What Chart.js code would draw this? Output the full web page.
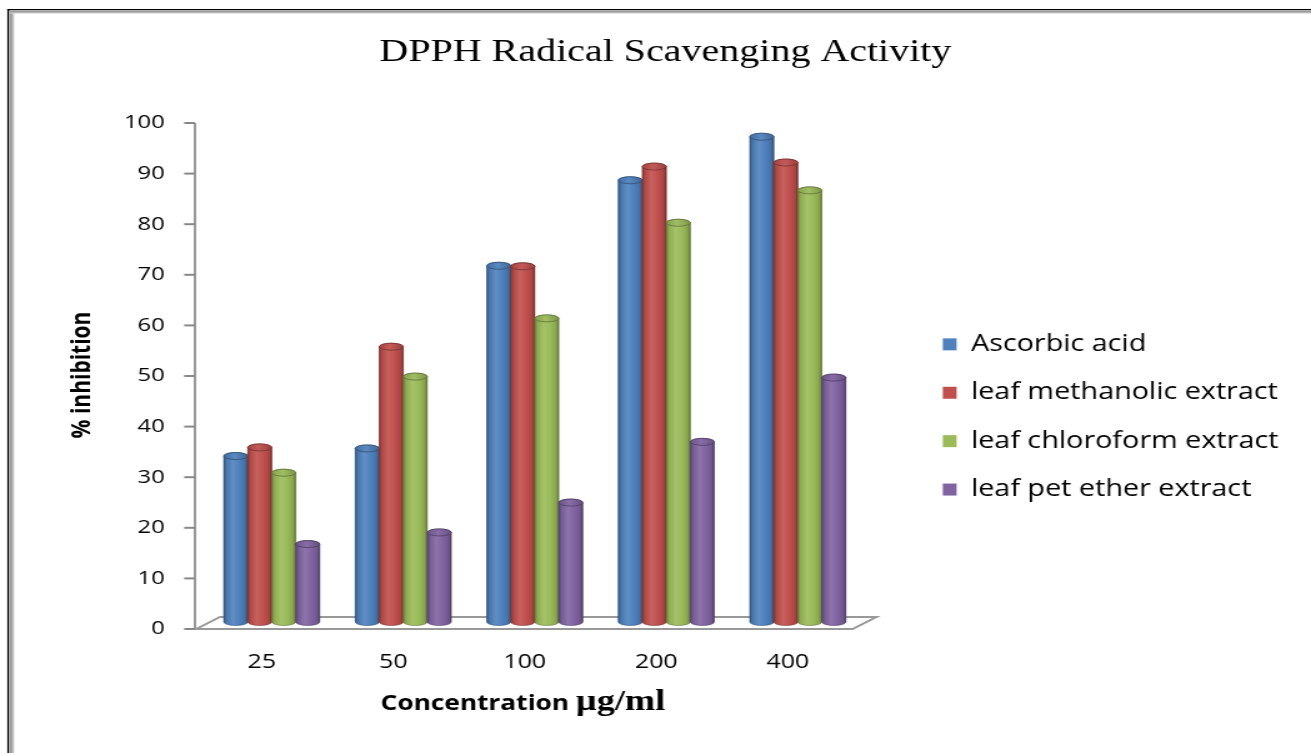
<!DOCTYPE html>
<html>
<head>
<meta charset="utf-8">
<title>DPPH Radical Scavenging Activity</title>
<script src="https://cdn.jsdelivr.net/npm/chart.js@4.4.1/dist/chart.umd.min.js"></script>
<style>
  html, body { margin: 0; padding: 0; background: #ffffff; overflow: hidden; }
  /* the drawing surface is rendered narrower and widened by CSS, which gives the wide lettering */
  #chart { display: block; width: 1311px; height: 753px; }
</style>
</head>
<body>
<canvas id="chart" width="1049" height="753" style="width:1311px;height:753px"></canvas>
<script>
// ---- data ----
const concentrations = ['25', '50', '100', '200', '400'];
const seriesNames = ['Ascorbic acid', 'leaf methanolic extract', 'leaf chloroform extract', 'leaf pet ether extract'];
const ascorbicAcid      = [32.8, 34.3, 70.4, 87.3, 95.9];
const methanolicExtract = [34.5, 54.4, 70.3, 90.0, 90.8];
const chloroformExtract = [29.5, 48.5, 60.0, 78.9, 85.3];
const petEtherExtract   = [15.4, 17.7, 23.6, 35.6, 48.3];
const yTickValues = [0, 10, 20, 30, 40, 50, 60, 70, 80, 90, 100];

const chartTitle = 'DPPH Radical Scavenging Activity';
const yTitle = '% inhibition';
const xTitleWord = 'Concentration ';
const xTitleUnit = '\u00B5g/ml';

const seriesColors = ['#4F81BD', '#C0504D', '#9BBB59', '#8064A2'];
const seriesValues = [ascorbicAcid, methanolicExtract, chloroformExtract, petEtherExtract];

const SANS = '"Open Sans", "DejaVu Sans", sans-serif';
const SERIF = '"Liberation Serif", "DejaVu Serif", serif';

// ---- layout helpers ----
const canvas = document.getElementById('chart');
const PLOT_RIGHT = 691;      // right edge of the plot area
const LEGEND_GAP = 38;       // space between plot and legend
const LEGEND_FONT = 23, LEGEND_BOX = 11, LEGEND_PAD = 25.4;

// width the legend needs for its longest entry
function legendWidth() {
  const c = canvas.getContext('2d');
  c.font = 'normal ' + LEGEND_FONT + 'px ' + SANS;
  const w = Math.max(...seriesNames.map(s => c.measureText(s).width));
  return LEGEND_PAD + LEGEND_BOX + LEGEND_FONT / 2 + w + 10;
}
const rightPad = Math.max(0, canvas.width - PLOT_RIGHT - LEGEND_GAP - legendWidth());

// mix a hex colour toward another hex colour
function mix(hexA, hexB, t) {
  const a = parseInt(hexA.slice(1), 16), b = parseInt(hexB.slice(1), 16);
  const ch = (v, s) => (v >> s) & 255;
  const c = s => Math.round(ch(a, s) * (1 - t) + ch(b, s) * t);
  return 'rgb(' + c(16) + ',' + c(8) + ',' + c(0) + ')';
}

// white page with the double frame line on the top and left edges
const framePlugin = {
  id: 'frame',
  beforeDraw(chart) {
    const { ctx, width, height } = chart;
    ctx.save();
    ctx.fillStyle = '#ffffff';
    ctx.fillRect(0, 0, width, height);
    ctx.fillStyle = '#000000';
    ctx.fillRect(5.9, 9, width, 1.3);
    ctx.fillRect(5.9, 9, 1.4, height);
    const gv = ctx.createLinearGradient(8, 0, 11.4, 0);
    gv.addColorStop(0, '#8a8a8a'); gv.addColorStop(1, '#d8d8d8');
    ctx.fillStyle = gv;
    ctx.fillRect(8, 11, 3.4, height);
    const gh = ctx.createLinearGradient(0, 11, 0, 13.6);
    gh.addColorStop(0, '#8a8a8a'); gh.addColorStop(1, '#d8d8d8');
    ctx.fillStyle = gh;
    ctx.fillRect(8, 11, width, 2.6);
    ctx.restore();
  }
};

// chart heading and the two axis titles
const titlesPlugin = {
  id: 'titles',
  afterDraw(chart) {
    const ctx = chart.ctx;
    ctx.save();
    ctx.fillStyle = '#000000';
    ctx.textBaseline = 'alphabetic';
    ctx.textAlign = 'center';
    ctx.font = '32px ' + SERIF;
    ctx.fillText(chartTitle, 532.4, 61);

    // x-axis title: sans word followed by a serif unit
    const wFont = 'bold 21px ' + SANS, uFont = 'bold 29px ' + SERIF;
    ctx.font = wFont; const w1 = ctx.measureText(xTitleWord).width;
    ctx.font = uFont; const w2 = ctx.measureText(xTitleUnit).width;
    const x0 = 418.4 - (w1 + w2) / 2;
    ctx.textAlign = 'left';
    ctx.font = wFont; ctx.fillText(xTitleWord, x0, 710);
    ctx.font = uFont; ctx.fillText(xTitleUnit, x0 + w1, 710);

    // y-axis title, rotated
    ctx.translate(66.4, 375);
    ctx.rotate(-Math.PI / 2);
    ctx.textAlign = 'center';
    ctx.textBaseline = 'middle';
    ctx.font = 'bold 21px ' + SANS;
    ctx.fillText(yTitle, 0, 0);
    ctx.restore();
  }
};

// front value axis and the floor slab under the columns
const floorPlugin = {
  id: 'floor',
  beforeDatasetsDraw(chart) {
    const { ctx, chartArea } = chart;
    const y = chart.scales.y;
    const drop = 7, axisGap = 8.8, tick = 8.6, dx = 19, dy = -12;
    const ax = chartArea.left - axisGap;
    const yFront = y.getPixelForValue(0) + drop;
    const yTop = y.getPixelForValue(y.max) + drop;
    ctx.save();
    ctx.strokeStyle = '#888888';
    ctx.lineWidth = 1.7;
    ctx.beginPath();
    ctx.moveTo(ax, yTop); ctx.lineTo(ax, yFront);
    ctx.stroke();
    ctx.lineWidth = 2;
    y.ticks.forEach(t => {
      const py = y.getPixelForValue(t.value) + drop;
      ctx.beginPath(); ctx.moveTo(ax - tick, py); ctx.lineTo(ax, py); ctx.stroke();
    });
    // floor outline
    const fr = chartArea.right - axisGap;
    ctx.strokeStyle = '#999999';
    ctx.lineWidth = 2;
    ctx.beginPath();
    ctx.moveTo(ax, yFront);
    ctx.lineTo(fr, yFront);
    ctx.lineTo(fr + dx, yFront + dy);
    ctx.lineTo(ax + 1 + dx, yFront + dy);
    ctx.lineTo(ax + 1, yFront);
    ctx.stroke();
    ctx.restore();
  }
};

// shade every column as a cylinder with an elliptical cap
const cylinderPlugin = {
  id: 'cylinders',
  afterDatasetsDraw(chart) {
    const ctx = chart.ctx;
    chart.data.datasets.forEach((ds, i) => {
      const meta = chart.getDatasetMeta(i);
      if (meta.hidden) return;
      const col = ds.backgroundColor;
      meta.data.forEach(bar => {
        const { x, y, base, width } = bar.getProps(['x', 'y', 'base', 'width'], true);
        const rx = width / 2, ry = 3.5, l = x - rx, r = x + rx;
        const body = ctx.createLinearGradient(l, 0, r, 0);
        body.addColorStop(0, mix(col, '#000000', 0.32));
        body.addColorStop(0.12, mix(col, '#000000', 0.08));
        body.addColorStop(0.38, mix(col, '#ffffff', 0.10));
        body.addColorStop(0.65, col);
        body.addColorStop(0.88, mix(col, '#000000', 0.12));
        body.addColorStop(1, mix(col, '#000000', 0.38));
        ctx.save();
        ctx.beginPath();
        ctx.moveTo(l, y);
        ctx.lineTo(l, base);
        ctx.ellipse(x, base, rx, ry, 0, Math.PI, 0, true);
        ctx.lineTo(r, y);
        ctx.ellipse(x, y, rx, ry, 0, 0, Math.PI, true);
        ctx.closePath();
        ctx.fillStyle = body;
        ctx.fill();
        ctx.lineWidth = 0.6;
        ctx.strokeStyle = mix(col, '#000000', 0.35);
        ctx.stroke();
        // cap
        const cap = ctx.createLinearGradient(l, 0, r, 0);
        cap.addColorStop(0, mix(col, '#000000', 0.15));
        cap.addColorStop(0.45, mix(col, '#ffffff', 0.06));
        cap.addColorStop(1, mix(col, '#000000', 0.2));
        ctx.beginPath();
        ctx.ellipse(x, y, rx, ry, 0, 0, Math.PI * 2);
        ctx.fillStyle = cap;
        ctx.fill();
        ctx.lineWidth = 0.8;
        ctx.strokeStyle = mix(col, '#000000', 0.38);
        ctx.stroke();
        ctx.restore();
      });
    });
  }
};

const datasets = seriesNames.map((name, i) => ({
  label: name,
  data: seriesValues[i],
  backgroundColor: seriesColors[i],
  borderWidth: 0,
  yAxisID: 'y',
  categoryPercentage: 0.73,
  barPercentage: 1.0
}));

new Chart(canvas, {
  type: 'bar',
  data: { labels: concentrations, datasets },
  plugins: [framePlugin, floorPlugin, cylinderPlugin, titlesPlugin],
  options: {
    responsive: false,
    devicePixelRatio: 1,
    animation: false,
    events: [],
    layout: { padding: { top: 116, left: 0, right: rightPad, bottom: 0 } },
    scales: {
      x: {
        grid: { display: false, drawTicks: false },
        border: { display: false },
        ticks: { color: '#000000', font: { family: SANS, size: 20 }, padding: 28, labelOffset: -8, maxRotation: 0 },
        afterFit(s) { s.height = 131; }
      },
      y: {
        min: 0, max: 100,
        grid: { display: false, drawTicks: false },
        border: { display: false },
        ticks: { color: '#000000', font: { family: SANS, size: 19 }, padding: 33, labelOffset: 7 },
        afterBuildTicks(s) { s.ticks = yTickValues.map(v => ({ value: v })); },
        afterFit(s) { s.width = 164.8; }
      },
      gap: {
        type: 'linear', position: 'right', display: true,
        grid: { display: false, drawTicks: false },
        border: { display: false },
        ticks: { display: false },
        afterFit(s) { s.width = LEGEND_GAP; }
      }
    },
    plugins: {
      title: { display: false },
      tooltip: { enabled: false },
      legend: {
        position: 'right',
        fullSize: false,
        maxWidth: 420,
        title: { display: true, text: ' ', font: { size: 12 }, padding: { top: 81.5, bottom: 0 } },
        labels: {
          color: '#000000',
          font: { family: SANS, size: LEGEND_FONT },
          boxWidth: LEGEND_BOX, boxHeight: 12, padding: LEGEND_PAD
        }
      }
    }
  }
});
</script>
</body>
</html>
